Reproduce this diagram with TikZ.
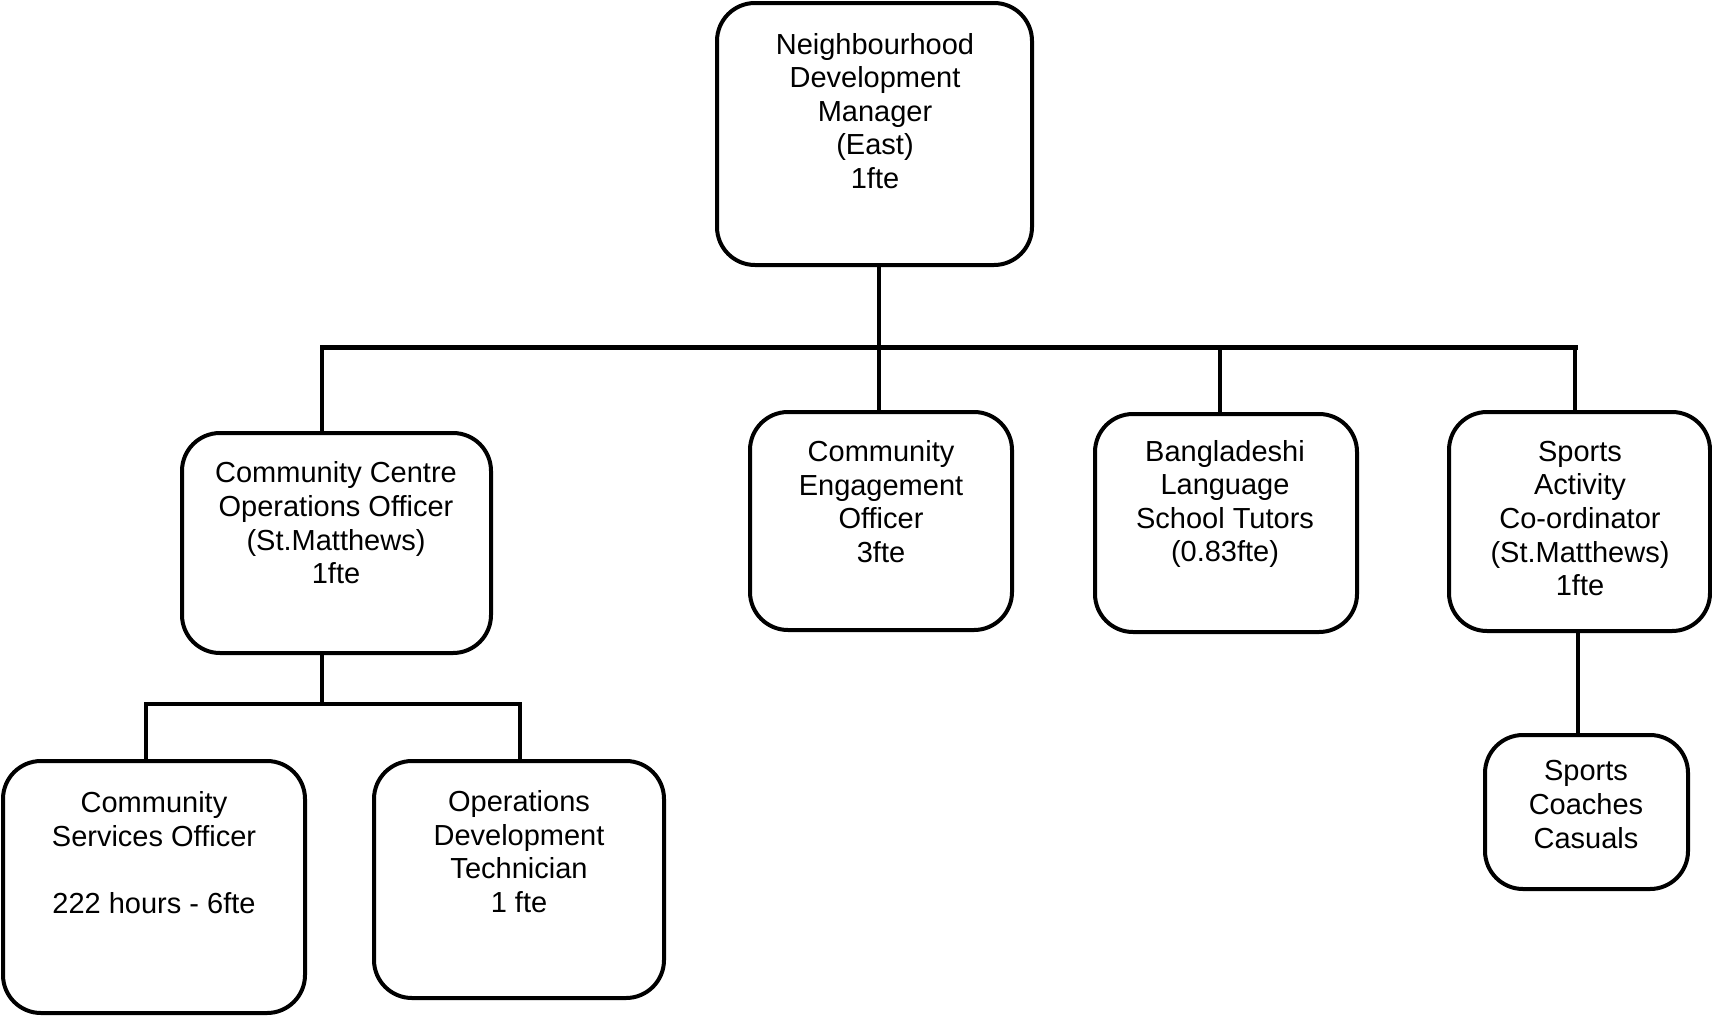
\documentclass[tikz,border=0pt]{standalone}
\usepackage{fontspec}
\setmainfont{Liberation Sans}
\begin{document}
\begin{tikzpicture}[x=1pt,y=-1pt,
  box/.style={draw=black,line width=4pt,rounded corners=38pt,inner sep=0pt,minimum width=#1},
  lbl/.style={align=center,inner sep=0pt,font=\fontsize{29}{33.6}\selectfont},
  conn/.style={line width=3.5pt,line cap=rect},
  barline/.style={line width=5pt,line cap=rect}]
\useasboundingbox (0,0) rectangle (1712,1017);
% boxes
\node[box=315pt,minimum height=262pt] (top) at (874.5,134) {};
\node[box=309pt,minimum height=220pt] (ccoo) at (336.5,543) {};
\node[box=262pt,minimum height=218pt] (ceo) at (881,521) {};
\node[box=262pt,minimum height=218pt] (bls) at (1226,523) {};
\node[box=261pt,minimum height=219pt] (sac) at (1579.5,521.5) {};
\node[box=203pt,minimum height=154pt] (scc) at (1586.5,812) {};
\node[box=302pt,minimum height=252pt] (cso) at (154,887) {};
\node[box=290pt,minimum height=237pt] (odt) at (519,879.5) {};
% texts
\node[lbl] (ttop) at (875,111) {Neighbourhood\\Development\\Manager\\(East)\\1fte};
\node[lbl] (tccoo) at (336,523) {Community Centre\\Operations Officer\\(St.Matthews)\\1fte};
\node[lbl] (tceo) at (881,501.5) {Community\\Engagement\\Officer\\3fte};
\node[lbl] (tbls) at (1225,504) {Bangladeshi\\Language\\School Tutors\\(0.83fte)};
\node[lbl] (tsac) at (1580,518.5) {Sports\\Activity\\Co-ordinator\\(St.Matthews)\\1fte};
\node[lbl] (tscc) at (1586,804.5) {Sports\\Coaches\\Casuals};
\node[lbl] (tcso) at (154,852.5) {Community\\Services Officer\\[33.6pt]222 hours - 6fte};
\node[lbl] (todt) at (519,851.5) {Operations\\Development\\Technician\\1 fte};
% junction coordinates
\coordinate (jtop) at (879,347);
\coordinate (jl) at (322,347);
\coordinate (jr) at (1575,347);
\coordinate (j4) at (1220,347);
\coordinate (jc) at (322,704);
\coordinate (jcl) at (146,704);
\coordinate (jcr) at (520,704);
% connectors
\draw[conn] (jtop |- top.south) -- (jtop);
\draw[barline] (jl) -- (jr);
\draw[conn] (jl) -- (jl |- ccoo.north);
\draw[conn] (jtop) -- (jtop |- ceo.north);
\draw[conn] (j4) -- (j4 |- bls.north);
\draw[conn] (jr) -- (jr |- sac.north);
\draw[conn] (jc |- ccoo.south) -- (jc);
\draw[conn] (jcl) -- (jcr);
\draw[conn] (jcl) -- (jcl |- cso.north);
\draw[conn] (jcr) -- (jcr |- odt.north);
\draw[conn] ([xshift=-1.5pt]sac.south) -- ([xshift=-1.5pt]scc.north -| sac.south);
\end{tikzpicture}
\end{document}
